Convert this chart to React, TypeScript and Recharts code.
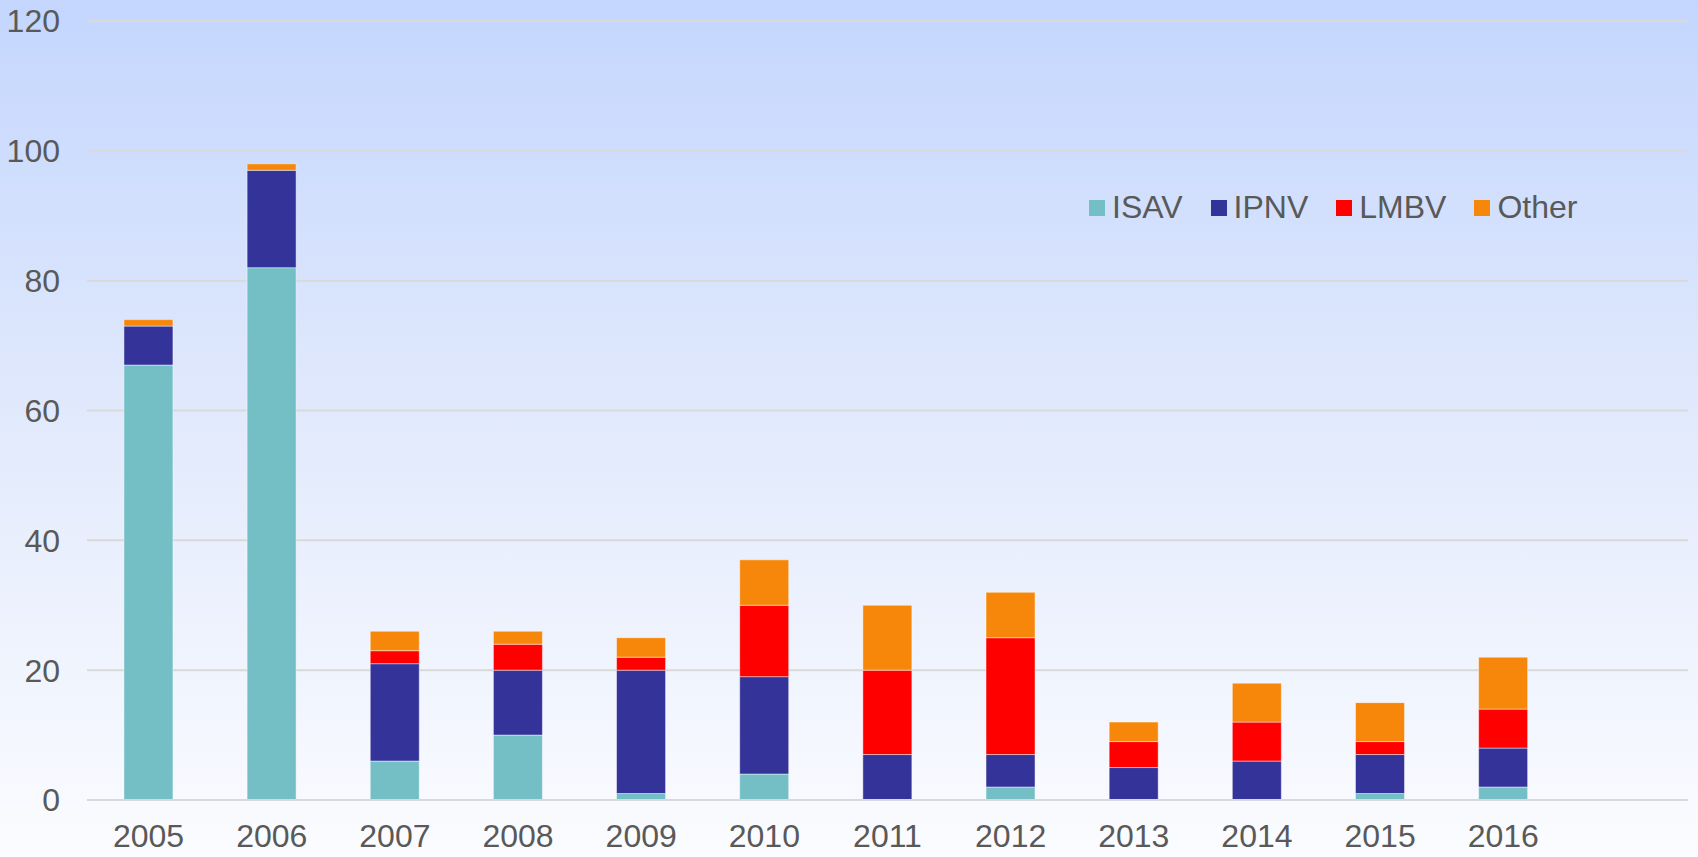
import { Bar, BarChart, CartesianGrid, XAxis, YAxis } from 'recharts';

const years = ['2005', '2006', '2007', '2008', '2009', '2010', '2011', '2012', '2013', '2014', '2015', '2016', ''];
const isav = [67, 82, 6, 10, 1, 4, 0, 2, 0, 0, 1, 2, null];
const ipnv = [6, 15, 15, 10, 19, 15, 7, 5, 5, 6, 6, 6, null];
const lmbv = [0, 0, 2, 4, 2, 11, 13, 18, 4, 6, 2, 6, null];
const other = [1, 1, 3, 2, 3, 7, 10, 7, 3, 6, 6, 8, null];
const yTicks = [0, 20, 40, 60, 80, 100, 120];

const series = [
  { key: 'ISAV', color: '#73bfc5' },
  { key: 'IPNV', color: '#343399' },
  { key: 'LMBV', color: '#ff0000' },
  { key: 'Other', color: '#f6870a' },
];

const data = years.map((year, i) => ({
  year,
  ISAV: isav[i],
  IPNV: ipnv[i],
  LMBV: lmbv[i],
  Other: other[i],
}));

const font = '"Liberation Sans", Arial, sans-serif';

function LegendRow() {
  return (
    <div
      style={{
        position: 'absolute',
        top: 189,
        left: 1089,
        display: 'flex',
        alignItems: 'center',
        fontFamily: font,
        fontSize: 32,
        color: '#595959',
        whiteSpace: 'nowrap',
      }}
    >
      {series.map((s) => (
        <div key={s.key} style={{ display: 'flex', alignItems: 'center', marginRight: 28 }}>
          <span style={{ width: 16, height: 16, background: s.color, display: 'inline-block', marginRight: 7 }} />
          <span>{s.key}</span>
        </div>
      ))}
    </div>
  );
}

export default function App() {
  return (
    <div
      style={{
        position: 'fixed',
        left: 0,
        top: 0,
        width: 1698,
        height: 857,
        background: 'linear-gradient(to bottom, #c4d6fe 0%, #e2eafc 50%, #fbfcff 100%)',
      }}
    >
      <BarChart
        width={1698}
        height={857}
        data={data}
        margin={{ top: 21, right: 10, bottom: 0, left: 0 }}
        barCategoryGap="30%"
      >
        <CartesianGrid vertical={false} stroke="#d9d9d9" strokeWidth={2} />
        <XAxis
          dataKey="year"
          height={57}
          tickSize={0}
          tickMargin={24}
          axisLine={{ stroke: '#d9d9d9', strokeWidth: 2 }}
          tick={{ fill: '#595959', fontSize: 32, fontFamily: font }}
          interval={0}
        />
        <YAxis
          width={87}
          domain={[0, 120]}
          ticks={yTicks}
          tickSize={0}
          tickMargin={27}
          axisLine={false}
          tick={{ fill: '#595959', fontSize: 32, fontFamily: font }}
        />
        {series.map((s) => (
          <Bar
            key={s.key}
            dataKey={s.key}
            stackId="a"
            fill={s.color}
            stroke="rgba(255,255,255,0.45)"
            strokeWidth={1}
            isAnimationActive={false}
          />
        ))}
      </BarChart>
      <LegendRow />
    </div>
  );
}
